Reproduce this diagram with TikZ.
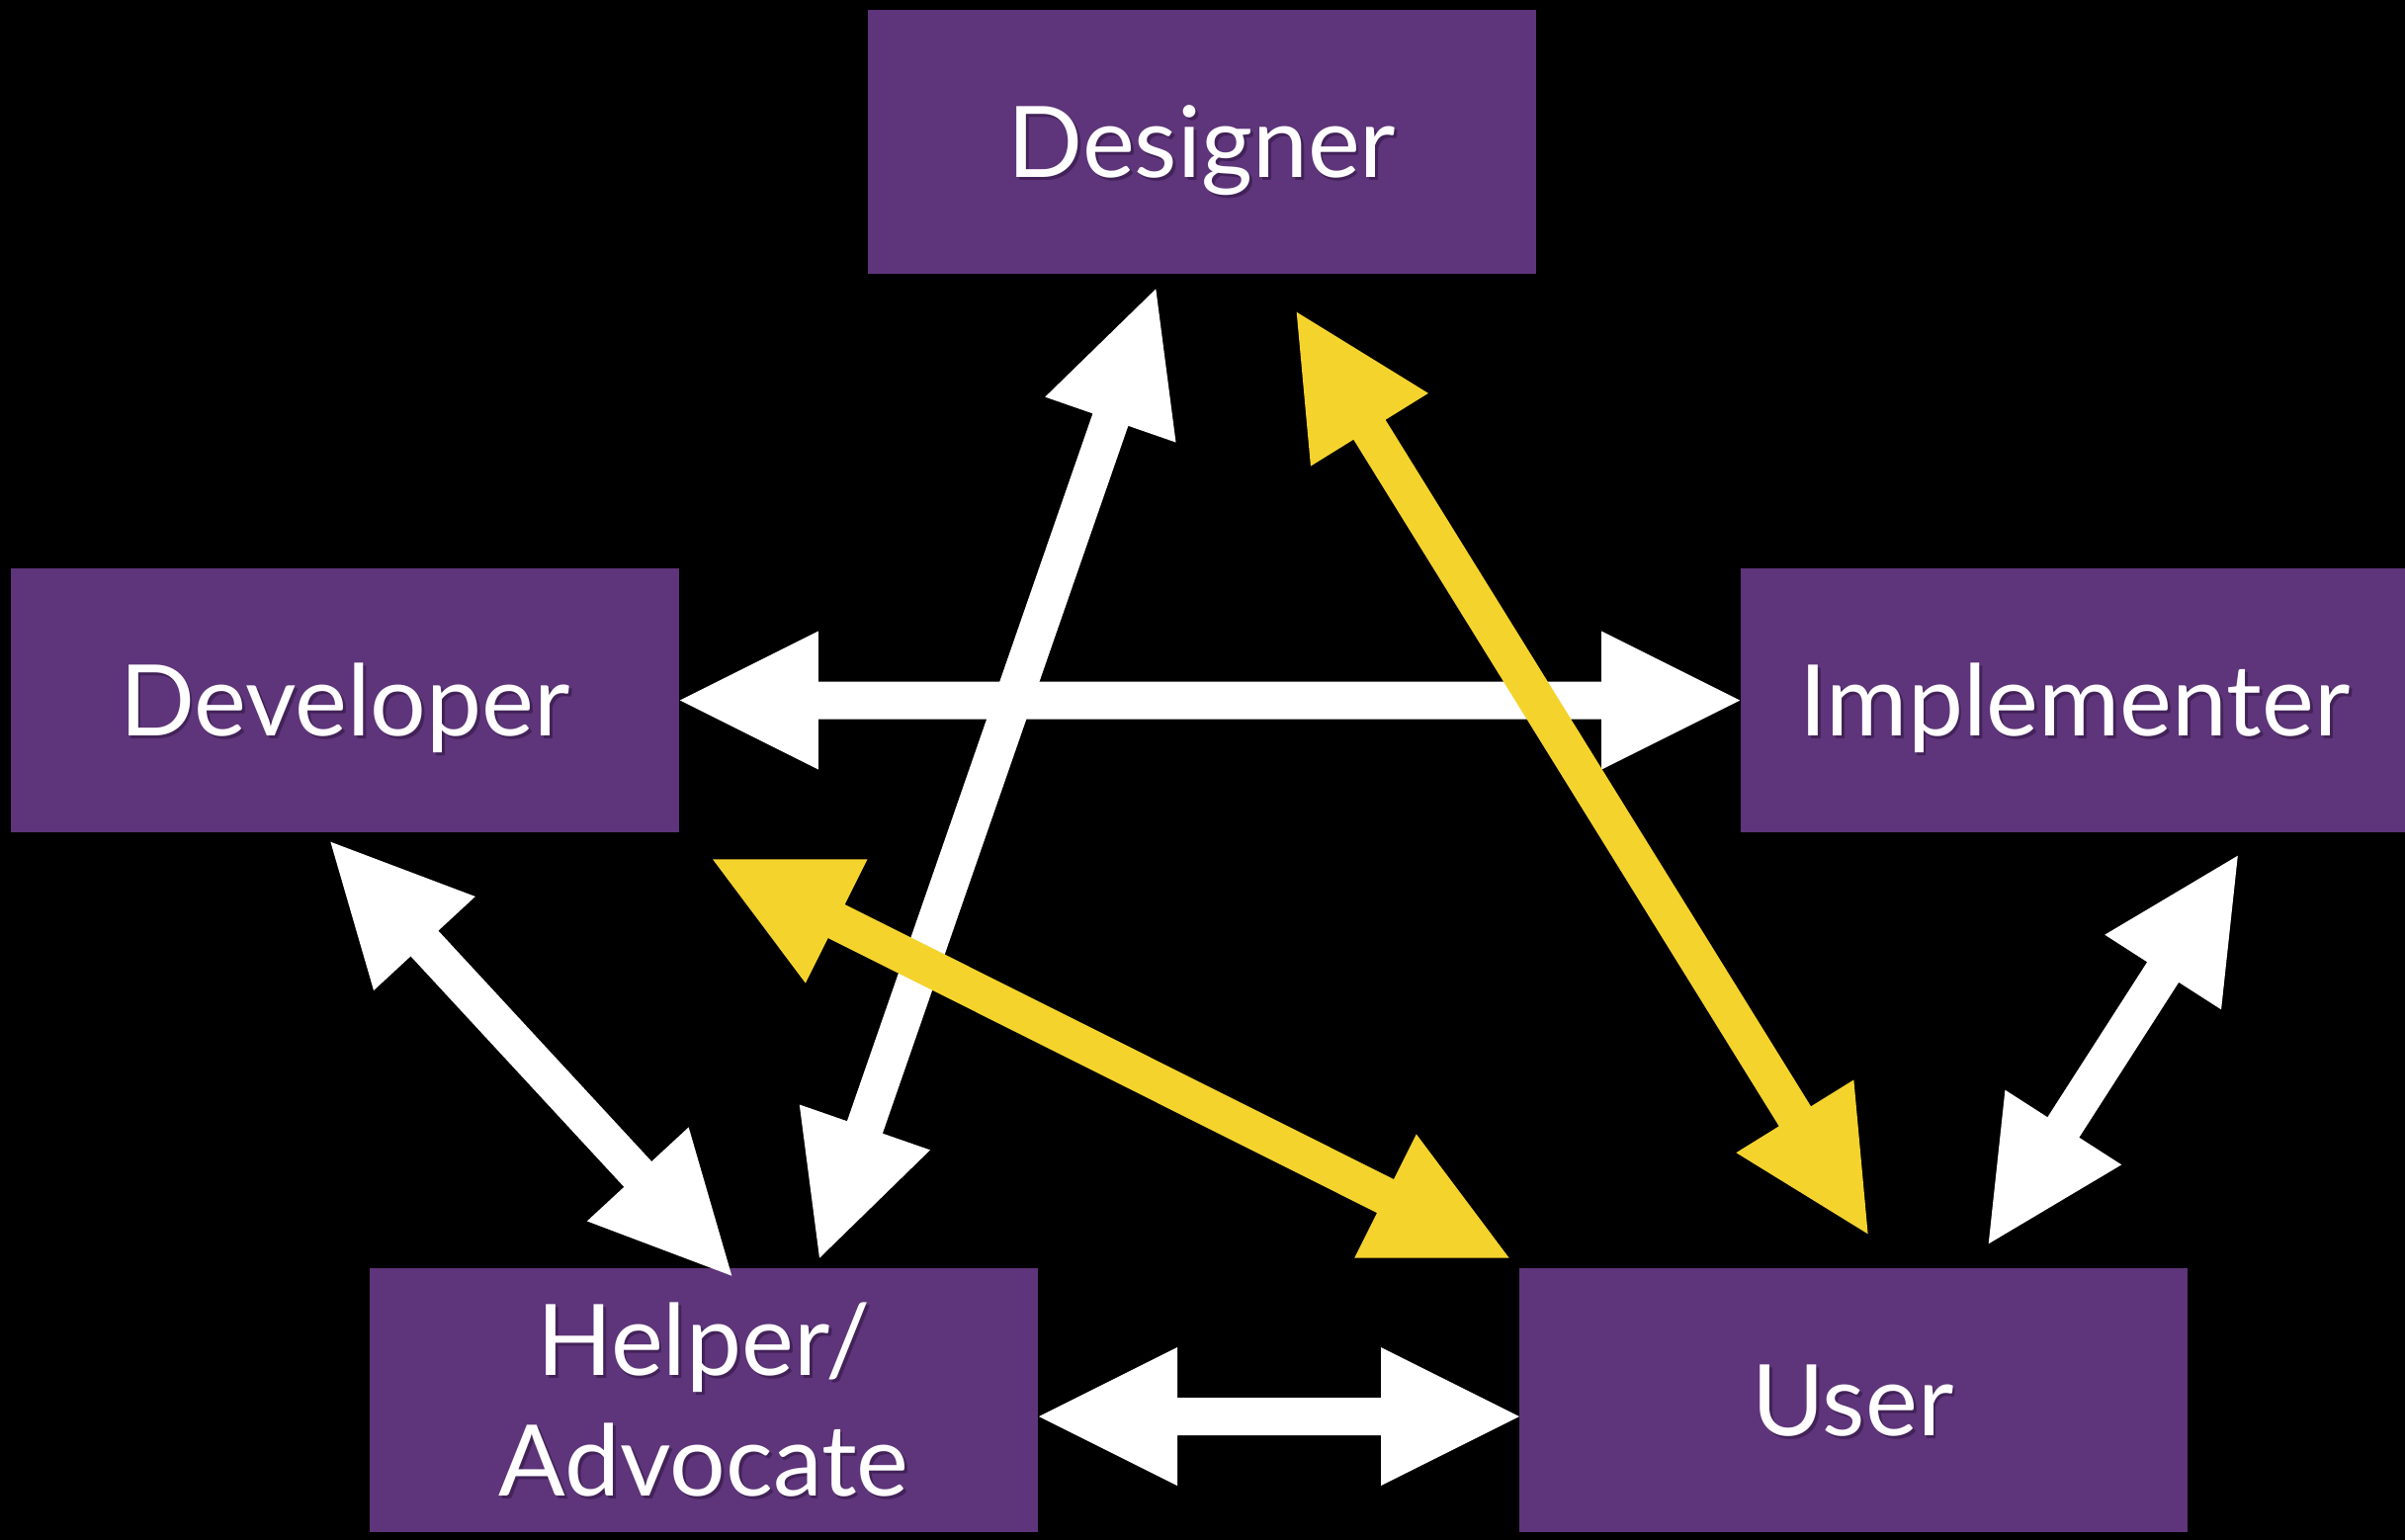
\documentclass[tikz,border=0pt]{standalone}
\usepackage{fontspec}
\setmainfont{Lato}
\usetikzlibrary{calc}
\definecolor{boxpurple}{RGB}{94,52,122}
\definecolor{arrowyellow}{RGB}{245,211,45}
\definecolor{shadowc}{RGB}{66,34,88}
\newcommand\shd[1]{\leavevmode\rlap{\kern0.7pt\raisebox{-0.7pt}{\color{shadowc}#1}}#1}
\newcommand\fatarrow[3]{%
  \coordinate (faA) at ($(#1)!35pt!(#2)$);
  \coordinate (faB) at ($(#2)!35pt!(#1)$);
  \fill[#3] (#1) -- ($(faA)!17.5pt!90:(#2)$) -- ($(faA)!4.75pt!90:(#2)$)
    -- ($(faB)!4.75pt!-90:(#1)$) -- ($(faB)!17.5pt!-90:(#1)$) -- (#2)
    -- ($(faB)!17.5pt!90:(#1)$) -- ($(faB)!4.75pt!90:(#1)$)
    -- ($(faA)!4.75pt!-90:(#2)$) -- ($(faA)!17.5pt!-90:(#2)$) -- cycle;}
\tikzset{
  rolebox/.style={fill=boxpurple, minimum width=169pt, minimum height=66.75pt,
    inner sep=0pt, text=white, font=\fontsize{25}{30.5}\selectfont,
    text height=18pt, text depth=0pt},
  whitearrow/.style={white},
  yellowarrow/.style={arrowyellow}
}
\begin{document}
\begin{tikzpicture}[x=0.25pt,y=-0.25pt]
\useasboundingbox (0,0) rectangle (2433,1557);
\fill[black] (-20,-20) rectangle (2453,1577);
% boxes
\node[rolebox] (des) at (1216,143.5) {\shd{Designer}};
\node[rolebox] (dev) at (349,708.5) {\shd{Developer}};
\node[rolebox] (imp) at (2099,708.5) {\shd{Implementer}};
\node[rolebox, text height=48.5pt] (help) at (712,1416.5)
  {\shd{\begin{tabular}[b]{@{}c@{}}Helper/\\Advocate\end{tabular}}};
\node[rolebox] (user) at (1874.5,1416.5) {\shd{User}};
% arrow end points
\coordinate (hu1) at (1051,1433);
\coordinate (hu2) at (1537,1433);
\coordinate (dh1) at (1169.3,292.3);
\coordinate (dh2) at (829,1272.7);
\coordinate (dv1) at (334.4,851.7);
\coordinate (dv2) at (740.3,1290.7);
\coordinate (iu1) at (2263.8,865.7);
\coordinate (iu2) at (2011.7,1258.3);
\coordinate (du1) at (1311.7,315.7);
\coordinate (du2) at (1889.6,1248.3);
\coordinate (vu1) at (721,869.3);
\coordinate (vu2) at (1526.7,1272.7);
% white arrows
\fatarrow{dev.east}{imp.west}{whitearrow}
\fatarrow{hu1}{hu2}{whitearrow}
\fatarrow{dh1}{dh2}{whitearrow}
\fatarrow{dv1}{dv2}{whitearrow}
\fatarrow{iu1}{iu2}{whitearrow}
% yellow arrows
\fatarrow{du1}{du2}{yellowarrow}
\fatarrow{vu1}{vu2}{yellowarrow}
\end{tikzpicture}
\end{document}
